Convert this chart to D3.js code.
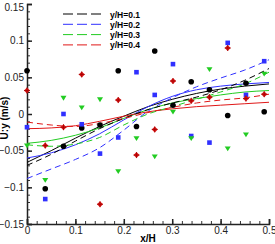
<!DOCTYPE html>
<html>
<head>
<meta charset="utf-8">
<script src="https://cdn.jsdelivr.net/npm/d3@7"></script>
<style>
  body { margin: 0; background: #fff; }
  svg { display: block; font-family: Arial, "Liberation Sans", sans-serif; }
</style>
</head>
<body>
<svg id="chart" width="275" height="244"></svg>
<script>
// measured points, x/H positions shared by all four series
const xPts = [0, 0.0377, 0.0754, 0.1131, 0.1508, 0.1885, 0.2262, 0.2639, 0.3016, 0.3393, 0.377, 0.4147, 0.4524, 0.4901];
const pts01 = [0.059, -0.102, -0.044, -0.019, -0.015, 0.059, -0.017, 0.086, 0.012, 0.044, 0.033, -0.002, 0.042, 0.003];
const pts02 = [-0.018, -0.116, 0.0, -0.014, -0.054, -0.032, 0.057, 0.026, 0.068, -0.030, -0.039, 0.097, 0.026, 0.072];
const pts03 = [-0.043, -0.090, 0.022, 0.009, 0.020, -0.078, -0.033, -0.058, 0.003, -0.033, 0.061, -0.047, -0.028, 0.055];
const pts04 = [0.032, -0.043, -0.018, 0.054, -0.123, 0.019, -0.056, -0.021, 0.045, 0.018, 0.023, 0.090, 0.021, 0.027];

// curves
const xLine = [0, 0.05, 0.1, 0.15, 0.2, 0.25, 0.3, 0.35, 0.4, 0.45, 0.5];
const solid01 = [-0.066, -0.050, -0.033, -0.017, -0.003, 0.010, 0.020, 0.028, 0.034, 0.038, 0.041];
const solid02 = [-0.060, -0.053, -0.042, -0.027, -0.008, 0.010, 0.024, 0.033, 0.038, 0.041, 0.043];
const solid03 = [-0.040, -0.036, -0.029, -0.019, -0.006, 0.006, 0.015, 0.021, 0.026, 0.030, 0.032];
const solid04 = [-0.020, -0.019, -0.016, -0.010, -0.003, 0.003, 0.007, 0.010, 0.012, 0.014, 0.016];
const dash01 = [-0.070, -0.055, -0.037, -0.020, -0.006, 0.006, 0.015, 0.023, 0.033, 0.046, 0.062];
const dash02 = [-0.088, -0.075, -0.062, -0.046, -0.022, 0.004, 0.022, 0.037, 0.049, 0.060, 0.074];
const dash03 = [-0.042, -0.044, -0.041, -0.032, -0.015, 0.000, 0.010, 0.020, 0.030, 0.041, 0.057];
const dash04 = [-0.011, -0.015, -0.017, -0.013, -0.006, 0.002, 0.009, 0.015, 0.019, 0.022, 0.027];

const seriesNames = ["y/H=0.1", "y/H=0.2", "y/H=0.3", "y/H=0.4"];
const xTicks = [0, 0.1, 0.2, 0.3, 0.4, 0.5];
const yTicks = [-0.15, -0.1, -0.05, 0, 0.05, 0.1, 0.15];

const colors = ["#000000", "#3030ff", "#22cc22", "#e01818"];
const shapes = ["circle", "square", "triangle", "diamond"];

const svg = d3.select("#chart");
const margin = { top: 4, right: 6, bottom: 20, left: 27 };
const width = 275, height = 244;

const x = d3.scaleLinear().domain([0, 0.5]).range([margin.left, width - margin.right]);
const y = d3.scaleLinear().domain([-0.15, 0.15]).range([height - margin.bottom, margin.top]);

// axes (ticks point inward)
const fmt = (d) => (d === 0 ? "0" : d3.format("")(+d.toFixed(2)));
const xAxis = svg.append("g").attr("transform", `translate(0,${y(-0.15)})`);
xAxis.call(d3.axisBottom(x).tickValues(d3.range(0, 0.5001, 0.02)).tickSize(-3).tickFormat(""));
xAxis.select(".domain").remove();
xAxis.selectAll(".tick line").attr("stroke", "#333");
const xMajor = svg.append("g").attr("transform", `translate(0,${y(-0.15)})`)
  .call(d3.axisBottom(x).tickValues(xTicks).tickSize(-5).tickPadding(3).tickFormat(fmt));
xMajor.select(".domain").attr("stroke", "#222").attr("stroke-width", 1.5);
xMajor.selectAll(".tick line").attr("stroke", "#222").attr("stroke-width", 1.5);
xMajor.selectAll("text").attr("font-size", 10).attr("fill", "#222");

const yAxis = svg.append("g").attr("transform", `translate(${x(0)},0)`);
yAxis.call(d3.axisLeft(y).tickValues(d3.range(-0.15, 0.1501, 0.01)).tickSize(-3).tickFormat(""));
yAxis.select(".domain").remove();
yAxis.selectAll(".tick line").attr("stroke", "#333");
const yMajor = svg.append("g").attr("transform", `translate(${x(0)},0)`)
  .call(d3.axisLeft(y).tickValues(yTicks).tickSize(-5).tickPadding(3).tickFormat(fmt));
yMajor.select(".domain").attr("stroke", "#222").attr("stroke-width", 1.5);
yMajor.selectAll(".tick line").attr("stroke", "#222").attr("stroke-width", 1.5);
yMajor.selectAll("text").attr("font-size", 10).attr("fill", "#222")
  .attr("dy", (d) => (d === 0.15 ? "0.62em" : "0.32em"));

// axis titles
svg.append("text").attr("x", 148).attr("y", 242).attr("text-anchor", "middle")
  .attr("font-size", 10).attr("font-weight", "bold").text("x/H");
svg.append("text").attr("transform", `translate(8,118) rotate(-90)`)
  .attr("text-anchor", "middle").attr("font-size", 10).attr("font-weight", "bold").text("U:y (m/s)");

// curves
const line = d3.line().x((d, i) => x(xLine[i])).y((d) => y(d)).curve(d3.curveMonotoneX);
const solids = [solid01, solid02, solid03, solid04];
const dashes = [dash01, dash02, dash03, dash04];
solids.forEach((s, i) => {
  svg.append("path").attr("d", line(s)).attr("fill", "none")
    .attr("stroke", colors[i]).attr("stroke-width", 1);
});
dashes.forEach((s, i) => {
  svg.append("path").attr("d", line(s)).attr("fill", "none")
    .attr("stroke", colors[i]).attr("stroke-width", 1).attr("stroke-dasharray", "6,4");
});

// markers
const pts = [pts01, pts02, pts03, pts04];
function drawMarker(g, shape, cx, cy, c) {
  if (shape === "circle") {
    g.append("circle").attr("cx", cx).attr("cy", cy).attr("r", 2.8).attr("fill", c);
  } else if (shape === "square") {
    g.append("rect").attr("x", cx - 2.3).attr("y", cy - 2.3).attr("width", 4.6).attr("height", 4.6).attr("fill", c);
  } else if (shape === "triangle") {
    g.append("path").attr("d", `M${cx - 3},${cy - 2} L${cx + 3},${cy - 2} L${cx},${cy + 2.8} Z`).attr("fill", c);
  } else {
    g.append("path").attr("d", `M${cx},${cy - 3} L${cx + 3},${cy} L${cx},${cy + 3} L${cx - 3},${cy} Z`).attr("fill", c);
    g.append("path").attr("d", `M${cx - 3},${cy} H${cx + 3} M${cx},${cy - 3} V${cy + 3}`)
      .attr("stroke", "#a00000").attr("stroke-width", 0.8);
  }
}
const markers = svg.append("g");
pts.forEach((s, i) => {
  s.forEach((v, j) => drawMarker(markers, shapes[i], x(xPts[j]), y(v), colors[i]));
});

// legend
const legend = svg.append("g");
seriesNames.forEach((name, i) => {
  const ly = 14 + i * 10.3;
  legend.append("line").attr("x1", 63).attr("x2", 101).attr("y1", ly).attr("y2", ly)
    .attr("stroke", colors[i]).attr("stroke-width", 1).attr("stroke-dasharray", "10,4");
  legend.append("text").attr("x", 110).attr("y", ly + 3.5).attr("font-size", 8.5)
    .attr("font-weight", "bold").text(name);
});
</script>
</body>
</html>
